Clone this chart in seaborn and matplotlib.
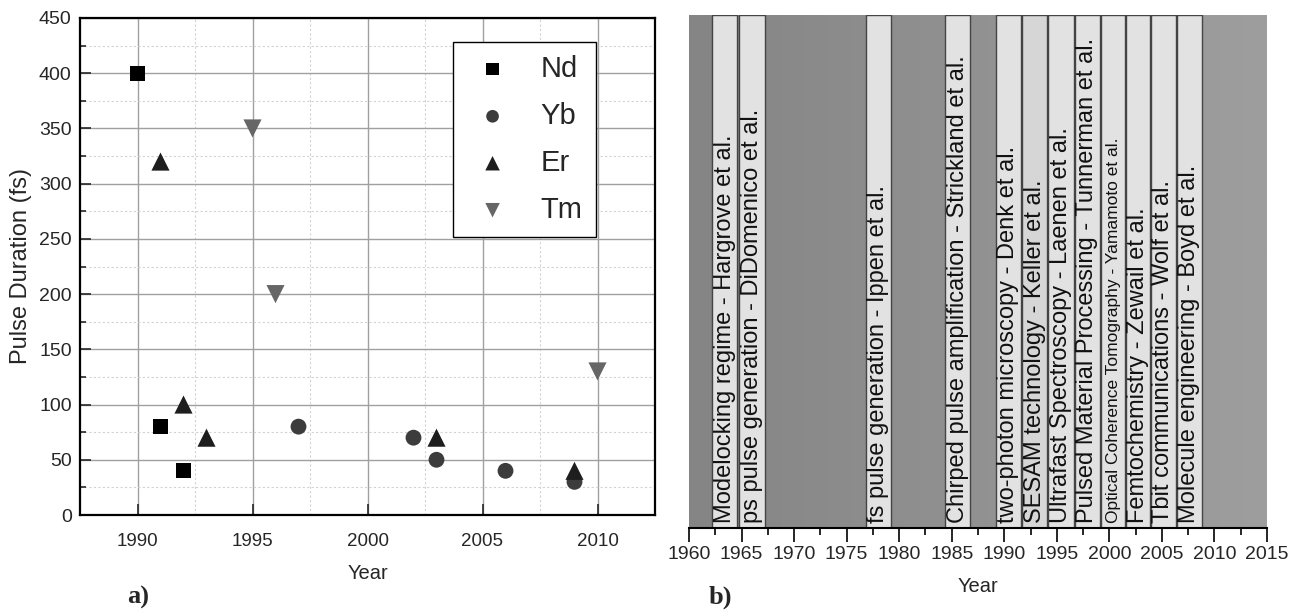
import numpy as np
import pandas as pd
import matplotlib
matplotlib.use("Agg")
import matplotlib.pyplot as plt
from matplotlib.ticker import MultipleLocator
import seaborn as sns

# ---------------- data: panel a) ----------------
nd_year = [1990, 1991, 1992]
nd_dur = [400, 80, 40]
yb_year = [1997, 2002, 2003, 2006, 2009]
yb_dur = [80, 70, 50, 40, 30]
er_year = [1991, 1992, 1993, 2003, 2009]
er_dur = [320, 100, 70, 70, 40]
tm_year = [1995, 1996, 2010]
tm_dur = [350, 200, 130]
dopants = ["Nd", "Yb", "Er", "Tm"]

# ---------------- data: panel b) ----------------
event_labels = [
    "Modelocking regime - Hargrove et al.",
    "ps pulse generation - DiDomenico et al.",
    "fs pulse generation - Ippen et al.",
    "Chirped pulse amplification - Strickland et al.",
    "two-photon microscopy - Denk et al.",
    "SESAM technology - Keller et al.",
    "Ultrafast Spectroscopy - Laenen et al.",
    "Pulsed Material Processing - Tunnerman et al.",
    "Optical Coherence Tomography - Yamamoto et al.",
    "Femtochemistry - Zewail et al.",
    "Tbit communications - Wolf et al.",
    "Molecule engineering - Boyd et al.",
]
event_start = [1962.2, 1964.8, 1976.8, 1984.4, 1989.2, 1991.7, 1994.2, 1996.7, 1999.2, 2001.6, 2004.0, 2006.4]
event_end = [1964.6, 1967.2, 1979.2, 1986.7, 1991.6, 1994.1, 1996.6, 1999.1, 2001.5, 2003.9, 2006.3, 2008.8]

# ---------------- style ----------------
sns.set_style("white")
plt.rcParams["font.family"] = ["Liberation Sans", "DejaVu Sans"]

fig = plt.figure(figsize=(12.96, 6.12), dpi=100)
ax1 = fig.add_axes([80 / 1296, 1 - 515 / 612, 575 / 1296, 497 / 612])
ax2 = fig.add_axes([689 / 1296, 1 - 528 / 612, 578 / 1296, 513 / 612])

# ---------------- panel a ----------------
df = pd.concat([
    pd.DataFrame({"Year": nd_year, "Duration": nd_dur, "Dopant": "Nd"}),
    pd.DataFrame({"Year": yb_year, "Duration": yb_dur, "Dopant": "Yb"}),
    pd.DataFrame({"Year": er_year, "Duration": er_dur, "Dopant": "Er"}),
    pd.DataFrame({"Year": tm_year, "Duration": tm_dur, "Dopant": "Tm"}),
], ignore_index=True)

palette = {"Nd": "#000000", "Yb": "#3c3c3c", "Er": "#1e1e1e", "Tm": "#666666"}
markers = {"Nd": "s", "Yb": "o", "Er": "^", "Tm": "v"}
sizes = {"Nd": 120, "Yb": 130, "Er": 170, "Tm": 170}

for d in dopants:
    sub = df[df["Dopant"] == d]
    sns.scatterplot(data=sub, x="Year", y="Duration", color=palette[d],
                    marker=markers[d], s=sizes[d], edgecolor="none",
                    ax=ax1, label=d, zorder=5)

ax1.set_xlim(1987.5, 2012.5)
ax1.set_ylim(0, 450)
ax1.xaxis.set_major_locator(MultipleLocator(5))
ax1.xaxis.set_minor_locator(MultipleLocator(2.5))
ax1.yaxis.set_major_locator(MultipleLocator(50))
ax1.yaxis.set_minor_locator(MultipleLocator(25))
ax1.grid(True, which="major", color="#a0a0a0", linewidth=1.0, linestyle="-")
ax1.grid(True, which="minor", color="#d2d2d2", linewidth=0.8, linestyle=(0, (2, 2)))
ax1.set_axisbelow(True)
for s in ax1.spines.values():
    s.set_color("black")
    s.set_linewidth(1.6)
ax1.tick_params(axis="y", which="major", direction="in", length=8, width=1.2,
                left=True, right=False, labelsize=14, pad=6)
ax1.tick_params(axis="y", which="minor", direction="in", length=4, width=1.2,
                left=True, right=False)
ax1.tick_params(axis="x", which="major", direction="in", length=8, width=1.2,
                bottom=True, top=False, labelsize=13.5, pad=13)
ax1.tick_params(axis="x", which="minor", bottom=False, top=False)
ax1.set_xlabel("Year", fontsize=14.5, labelpad=10)
ax1.set_ylabel("Pulse Duration (fs)", fontsize=17, labelpad=5)

leg = ax1.legend(loc="upper left", bbox_to_anchor=(0.649, 0.952), fontsize=21,
                 frameon=True, fancybox=False, edgecolor="black",
                 markerscale=0.8, handletextpad=0.75, labelspacing=0.65,
                 borderpad=0.45, handlelength=1.8, borderaxespad=0)
leg.get_frame().set_linewidth(1.0)
leg.get_frame().set_facecolor("white")
leg.get_frame().set_alpha(1)

# ---------------- panel b ----------------
ax2.set_xlim(1960, 2015)
ax2.set_ylim(0, 1)
grad = np.linspace(0, 1, 256).reshape(1, -1)
ax2.imshow(grad, extent=[1960, 2015, 0, 1], aspect="auto",
           cmap=matplotlib.colors.LinearSegmentedColormap.from_list("g", ["#858585", "#9e9e9e"]),
           zorder=0)

widths = [e - s for s, e in zip(event_start, event_end)]
bar_colors = ["#e2e2e2"] * len(event_labels)
bar_colors[5] = "#d6d6d6"
ax2.bar(event_start, [1.0] * len(event_start), width=widths, align="edge",
        color=bar_colors, edgecolor="#444444", linewidth=1.0, zorder=2)

for lab, s, e in zip(event_labels, event_start, event_end):
    fs = 12.5 if lab.startswith("Optical") else 17
    ax2.text((s + e) / 2, 0.01, lab, rotation=90, ha="center", va="bottom",
             fontsize=fs, color="#111111", zorder=3)

ax2.xaxis.set_major_locator(MultipleLocator(5))
ax2.xaxis.set_minor_locator(MultipleLocator(2.5))
ax2.set_yticks([])
for side in ["top", "right", "left"]:
    ax2.spines[side].set_visible(False)
ax2.spines["bottom"].set_color("black")
ax2.spines["bottom"].set_linewidth(1.5)
ax2.tick_params(axis="x", which="major", direction="out", length=10, width=1.4,
                bottom=True, labelsize=14, pad=3)
ax2.tick_params(axis="x", which="minor", direction="out", length=5, width=1.4,
                bottom=True)
ax2.set_xlabel("Year", fontsize=14.5, labelpad=10)

# panel labels
fig.text(138 / 1296, 1 - 597 / 612, "a)", fontsize=19, fontweight="bold",
         family=["Liberation Serif", "DejaVu Serif"], ha="center", va="center")
fig.text(720 / 1296, 1 - 597 / 612, "b)", fontsize=19, fontweight="bold",
         family=["Liberation Serif", "DejaVu Serif"], ha="center", va="center")

fig.savefig("out.png", dpi=100)
